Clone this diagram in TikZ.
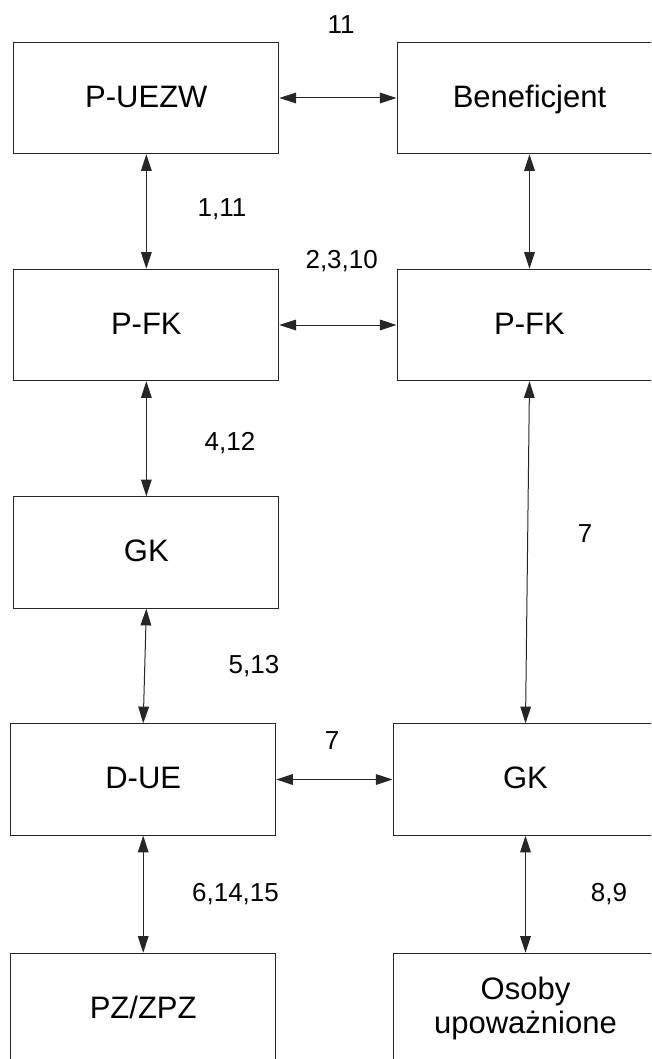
\documentclass[tikz,border=0pt]{standalone}
\usepackage{fontspec}
\setmainfont{Liberation Sans}
\usetikzlibrary{arrows.meta}
\begin{document}
\begin{tikzpicture}[x=0.75pt,y=-0.75pt,
  box/.style={draw=black!85, line width=0.75pt, minimum width=198.75pt, minimum height=83.6pt, inner sep=0pt, align=center, font=\fontsize{23.25pt}{25.5pt}\selectfont},
  oneline/.style={text height=16.65pt, text depth=2.65pt},
  lab/.style={anchor=base, inner sep=0pt, font=\fontsize{19.5pt}{22pt}\selectfont},
  link/.style={draw=black!85, line width=0.75pt, {Triangle[length=12.5pt,width=8pt]}-{Triangle[length=12.5pt,width=8pt]}}]
\useasboundingbox (0,0) rectangle (651,1059);
\clip (0,0) rectangle (651,1059);
% boxes
\node[box,oneline] (pu)   at (146.35,98)   {P-UEZW};
\node[box,oneline] (ben)  at (529.5,98)    {Beneficjent};
\node[box,oneline] (pfk1) at (146.35,325)  {P-FK};
\node[box,oneline] (pfk2) at (529.5,325)   {P-FK};
\node[box,oneline] (gk1)  at (146.35,552.5){GK};
\node[box,oneline] (due)  at (143.2,779.5) {D-UE};
\node[box,oneline] (gk2)  at (525.5,779.5) {GK};
\node[box,oneline] (pz)   at (143.2,1009)  {PZ/ZPZ};
\node[box,text height=36.5pt,text depth=0pt] (os) at (525.5,1009) {Osoby\\upoważnione};
% connectors
\draw[link] (pu.east) -- (ben.west);
\draw[link] (pu.south) -- (pfk1.north);
\draw[link] (ben.south) -- (pfk2.north);
\draw[link] (pfk1.east) -- (pfk2.west);
\draw[link] (pfk1.south) -- (gk1.north);
\draw[link] (pfk2.south) -- (gk2.north);
\draw[link] (gk1.south) -- (due.north);
\draw[link] (due.east) -- (gk2.west);
\draw[link] (due.south) -- (pz.north);
\draw[link] (gk2.south) -- (os.north);
% labels
\node[lab] (l1)  at (341,33.3)  {11};
\node[lab] (l2)  at (222,216.7) {1,11};
\node[lab] (l3)  at (341.7,268.5) {2,3,10};
\node[lab] (l4)  at (230,450.7) {4,12};
\node[lab] (l5)  at (585,542.3) {7};
\node[lab] (l6)  at (254,673.3) {5,13};
\node[lab] (l7)  at (332,749)   {7};
\node[lab] (l8)  at (235.5,901.7) {6,14,15};
\node[lab] (l9)  at (609,901.7) {8,9};
\end{tikzpicture}
\end{document}
